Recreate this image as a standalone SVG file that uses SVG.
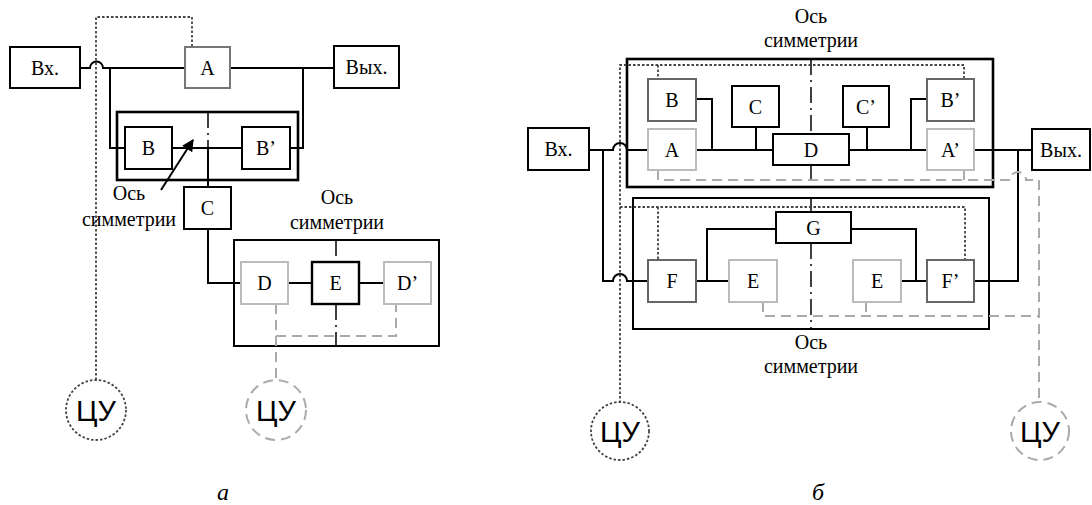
<svg xmlns="http://www.w3.org/2000/svg" width="1092" height="505" viewBox="0 0 1092 505">
<style>
.bx{fill:#fff;stroke:#000;stroke-width:2}
.dk{fill:#fff;stroke:#666;stroke-width:2}
.lt{fill:#fff;stroke:#bbb;stroke-width:2}
.thk{fill:none;stroke:#000;stroke-width:2.6}
.frm{fill:none;stroke:#000;stroke-width:2}
.t{font-family:"Liberation Serif","Times New Roman",serif;font-size:20px;text-anchor:middle;fill:#000}
.cu{font-family:"Liberation Sans",Arial,sans-serif;font-size:29px;text-anchor:middle;fill:#000}
.it{font-family:"Liberation Serif","Times New Roman",serif;font-size:24px;font-style:italic;text-anchor:middle;fill:#000}
.ln{fill:none;stroke:#000;stroke-width:2}
.dot{fill:none;stroke:#444;stroke-width:1.8;stroke-dasharray:2.5 2}
.gd{fill:none;stroke:#aaa;stroke-width:2;stroke-dasharray:10 6}
.ax{fill:none;stroke:#000;stroke-width:1.5;stroke-dasharray:16 5 2 5}
</style>
<defs>
<marker id="ah" viewBox="0 0 10 10" refX="9" refY="5" markerWidth="6" markerHeight="6" orient="auto" markerUnits="strokeWidth">
<path d="M0,0 L10,5 L0,10 z" fill="#000"/>
</marker>
</defs>

<!-- frames -->
<rect class="thk" x="117" y="112" width="181" height="68"/>
<rect class="frm" x="234" y="240" width="205" height="106"/>
<rect class="thk" x="627" y="59" width="366" height="128"/>
<rect class="frm" x="633" y="198" width="356" height="131"/>

<g id="connectors">
<!-- left diagram -->
<path class="ln" d="M80,68 H90 A6.5,6.5 0 0 1 103,68 H185"/>
<path class="ln" d="M230,68 H334"/>
<path class="ln" d="M110,68 V148 H125"/>
<path class="ln" d="M303,68 V148 H290"/>
<path class="ln" d="M172,148 H242"/>
<path class="ln" d="M208,148 V187"/>
<path class="ln" d="M208,229 V283 H241"/>
<path class="ln" d="M288,283 H312"/>
<path class="ln" d="M359,283 H384"/>
<path class="ax" d="M208,112 V148"/>
<path class="ax" d="M336,240 V262"/>
<path class="ax" d="M336,304 V346"/>
<line x1="161" y1="190" x2="193" y2="140" stroke="#000" stroke-width="2" marker-end="url(#ah)"/>
<path class="dot" d="M96,380 V17 H192 V47"/>
<path class="gd" d="M276,304 V336 H396 V304"/>
<path class="gd" d="M276,336 V380"/>

<!-- right diagram -->
<path class="ln" d="M589,150 H613 A7,7 0 0 1 627,150 H648"/>
<path class="ln" d="M603,150 V281 H613 A7,7 0 0 1 627,281 H648"/>
<path class="ln" d="M696,150 H773"/>
<path class="ln" d="M696,99 H712 V150"/>
<path class="ln" d="M756,127 V150"/>
<path class="ln" d="M849,150 H927"/>
<path class="ln" d="M867,127 V150"/>
<path class="ln" d="M911,150 V99 H927"/>
<path class="ln" d="M974,150 H1032"/>
<path class="ln" d="M1018,150 V281 H974"/>
<path class="ln" d="M696,281 H729"/>
<path class="ln" d="M707,281 V229 H776"/>
<path class="ln" d="M851,229 H916 V281"/>
<path class="ln" d="M901,281 H927"/>
<path class="ax" d="M811,59 V134"/>
<path class="ax" d="M811,165 V187"/>
<path class="ax" d="M811,198 V212"/>
<path class="ax" d="M811,243 V329"/>
<path class="dot" d="M620,403 V65 H964 V79"/>
<path class="dot" d="M658,65 V79"/>
<path class="dot" d="M620,207 H965 V260"/>
<path class="dot" d="M658,207 V260"/>
<path class="gd" d="M658,170 V180 H1010 A8,8 0 0 1 1026,180 H1039 V401"/>
<path class="gd" d="M964,170 V180"/>
<path class="gd" d="M763,302 V316 H1039"/>
<path class="gd" d="M866,302 V316"/>
</g>

<!-- left diagram nodes -->
<g id="vx-a"><rect class="bx" x="10" y="47" width="70" height="41"/><text class="t" x="45" y="75">Вх.</text></g>
<g id="A-a"><rect class="bx" style="stroke:#777" x="185" y="47" width="45" height="41"/><text class="t" x="207.5" y="75">A</text></g>
<g id="vyx-a"><rect class="bx" x="334" y="46" width="65" height="42"/><text class="t" x="366.5" y="74">Вых.</text></g>
<g id="B-a"><rect class="bx" x="125" y="127" width="47" height="42"/><text class="t" x="148.5" y="155">B</text></g>
<g id="B2-a"><rect class="bx" x="242" y="127" width="48" height="42"/><text class="t" x="266" y="155">B’</text></g>
<g id="C-a"><rect class="bx" x="184" y="187" width="47" height="42"/><text class="t" x="207.5" y="215">C</text></g>
<g id="D-a"><rect class="lt" x="241" y="262" width="47" height="42"/><text class="t" x="264.5" y="290">D</text></g>
<g id="E-a"><rect class="bx" style="stroke-width:2.4" x="312" y="262" width="47" height="42"/><text class="t" x="335.5" y="290">E</text></g>
<g id="D2-a"><rect class="lt" x="384" y="262" width="47" height="42"/><text class="t" x="407.5" y="290">D’</text></g>
<g id="cu1-a"><circle class="dot" cx="96" cy="410" r="30"/><text class="cu" x="96" y="421">ЦУ</text></g>
<g id="cu2-a"><circle class="gd" cx="276" cy="410" r="30"/><text class="cu" x="276" y="421">ЦУ</text></g>
<g id="labels-a">
<text class="t" x="129" y="200">Ось</text>
<text class="t" x="129" y="226">симметрии</text>
<text class="t" x="337" y="204">Ось</text>
<text class="t" x="337" y="229">симметрии</text>
<text class="it" x="223" y="500">а</text>
</g>

<!-- right diagram nodes -->
<g id="vx-b"><rect class="bx" x="528" y="128" width="61" height="42"/><text class="t" x="558.5" y="156">Вх.</text></g>
<g id="B-b"><rect class="dk" x="648" y="79" width="48" height="42"/><text class="t" x="672" y="107">B</text></g>
<g id="A-b"><rect class="lt" x="648" y="129" width="48" height="41"/><text class="t" x="672" y="157">A</text></g>
<g id="C-b"><rect class="bx" x="732" y="86" width="47" height="41"/><text class="t" x="755.5" y="114">C</text></g>
<g id="D-b"><rect class="bx" x="773" y="134" width="76" height="31"/><text class="t" x="811" y="157">D</text></g>
<g id="C2-b"><rect class="bx" x="843" y="86" width="46" height="41"/><text class="t" x="866" y="114">C’</text></g>
<g id="B2-b"><rect class="dk" x="927" y="79" width="47" height="42"/><text class="t" x="950.5" y="107">B’</text></g>
<g id="A2-b"><rect class="lt" x="927" y="129" width="47" height="41"/><text class="t" x="950.5" y="157">A’</text></g>
<g id="vyx-b"><rect class="bx" x="1032" y="129" width="58" height="41"/><text class="t" x="1061" y="157">Вых.</text></g>
<g id="F-b"><rect class="dk" x="648" y="260" width="48" height="42"/><text class="t" x="672" y="288">F</text></g>
<g id="E-b"><rect class="lt" x="729" y="260" width="48" height="42"/><text class="t" x="753" y="288">E</text></g>
<g id="G-b"><rect class="bx" x="776" y="212" width="75" height="31"/><text class="t" x="813.5" y="235">G</text></g>
<g id="E2-b"><rect class="lt" x="853" y="260" width="48" height="42"/><text class="t" x="877" y="288">E</text></g>
<g id="F2-b"><rect class="dk" x="927" y="260" width="47" height="42"/><text class="t" x="950.5" y="288">F’</text></g>
<g id="cu1-b"><circle class="dot" cx="620" cy="431" r="29"/><text class="cu" x="620" y="442">ЦУ</text></g>
<g id="cu2-b"><circle class="gd" cx="1040" cy="431" r="29"/><text class="cu" x="1040" y="442">ЦУ</text></g>
<g id="labels-b">
<text class="t" x="811" y="23">Ось</text>
<text class="t" x="811" y="47">симметрии</text>
<text class="t" x="811" y="349">Ось</text>
<text class="t" x="811" y="373">симметрии</text>
<text class="it" x="818" y="500">б</text>
</g>
</svg>
